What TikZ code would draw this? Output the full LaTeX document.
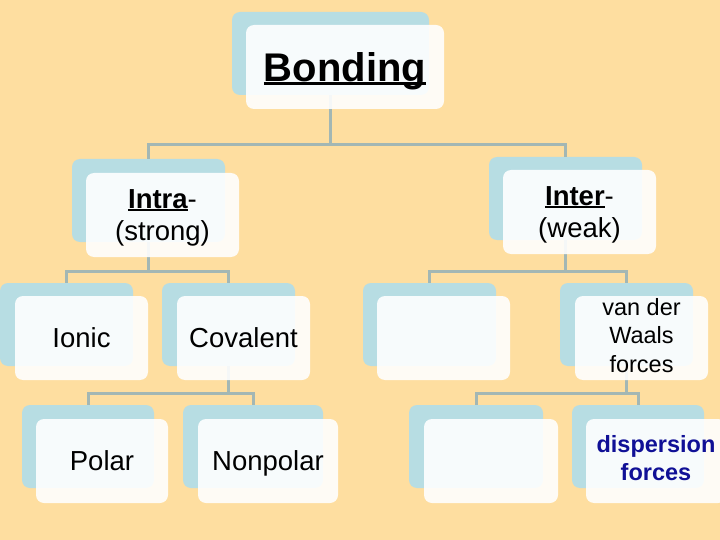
\documentclass[tikz,border=0pt]{standalone}
\usepackage{fontspec}
\setmainfont{Liberation Sans}
\definecolor{bg}{RGB}{254,222,160}
\definecolor{bblue}{RGB}{183,221,227}
\definecolor{conncol}{RGB}{163,183,180}
\definecolor{dblue}{RGB}{16,16,150}
\newcommand\myul[1]{\setbox0\hbox{#1}\rlap{\rule[-0.09em]{\wd0}{0.065em}}\box0}
\begin{document}
\begin{tikzpicture}[x=1pt,y=-1pt,
  back/.style={fill=bblue, rounded corners=8pt, inner sep=0pt, outer sep=0pt,
    anchor=north west, minimum width=133pt, minimum height=83pt},
  front/.style={fill=white, fill opacity=0.9, text opacity=1, rounded corners=8pt,
    inner sep=0pt, outer sep=0pt, anchor=north west, minimum width=133pt,
    minimum height=84pt, align=center, text depth=0pt, font=\fontsize{27.5}{32}\selectfont},
  conn/.style={draw=conncol, line width=3pt}]
\fill[bg] (0,0) rectangle (720,540);
\useasboundingbox (0,0) rectangle (720,540);
\clip (0,0) rectangle (720,540);
% back boxes
\node[back, minimum width=197pt] (bondB) at (232,12) {};
\node[back, minimum width=153pt] (intraB) at (72,159) {};
\node[back, minimum width=153pt] (interB) at (489,157) {};
\node[back] (ionicB) at (0,283) {};
\node[back] (covB) at (162,283) {};
\node[back] (emptyAB) at (363,283) {};
\node[back] (vdwB) at (560,283) {};
\node[back, minimum width=132pt] (polarB) at (22,405) {};
\node[back, minimum width=140pt] (nonpB) at (183,405) {};
\node[back, minimum width=134pt] (emptyBB) at (409,405) {};
\node[back, minimum width=132pt] (dispB) at (572,405) {};
% connectors
\draw[conn] (bondB.south) -- ++(0,50) -| (intraB.north);
\draw[conn] (bondB.south) -- ++(0,50) -| (interB.north);
\draw[conn] (intraB.south) -- ++(0,29) -| (ionicB.north);
\draw[conn] (intraB.south) -- ++(0,29) -| (covB.north);
\draw[conn] (interB.south) -- ++(0,31) -| (emptyAB.north);
\draw[conn] (interB.south) -- ++(0,31) -| (vdwB.north);
\draw[conn] (covB.south) -- ++(0,27) -| (polarB.north);
\draw[conn] (covB.south) -- ++(0,27) -| (nonpB.north);
\draw[conn] (vdwB.south) -- ++(0,27) -| (emptyBB.north);
\draw[conn] (vdwB.south) -- ++(0,27) -| (dispB.north);
% front boxes
\node[front, minimum width=198pt, font=\fontsize{40}{48}\selectfont\bfseries] (bondF) at (246,25) {\myul{Bonding}};
\node[front, minimum width=153pt] (intraF) at (86,173) {\textbf{\myul{Intra}}-\\(strong)};
\node[front, minimum width=153pt] (interF) at (503,170) {\textbf{\myul{Inter}}-\\(weak)};
\node[front] (ionicF) at (15,296) {Ionic};
\node[front] (covF) at (177,296) {Covalent};
\node[front] (emptyAF) at (377,296) {};
\node[front, text depth=6pt, font=\fontsize{23.5}{28.5}\selectfont] (vdwF) at (575,296) {van der\\Waals\\forces};
\node[front, minimum width=132pt] (polarF) at (36,419) {Polar};
\node[front, minimum width=140pt] (nonpF) at (198,419) {Nonpolar};
\node[front, minimum width=134pt] (emptyBF) at (424,419) {};
\node[front, minimum width=140pt, text depth=6pt, text=dblue, font=\fontsize{23.5}{28}\selectfont\bfseries] (dispF) at (586,419) {dispersion\\forces};
\end{tikzpicture}
\end{document}
